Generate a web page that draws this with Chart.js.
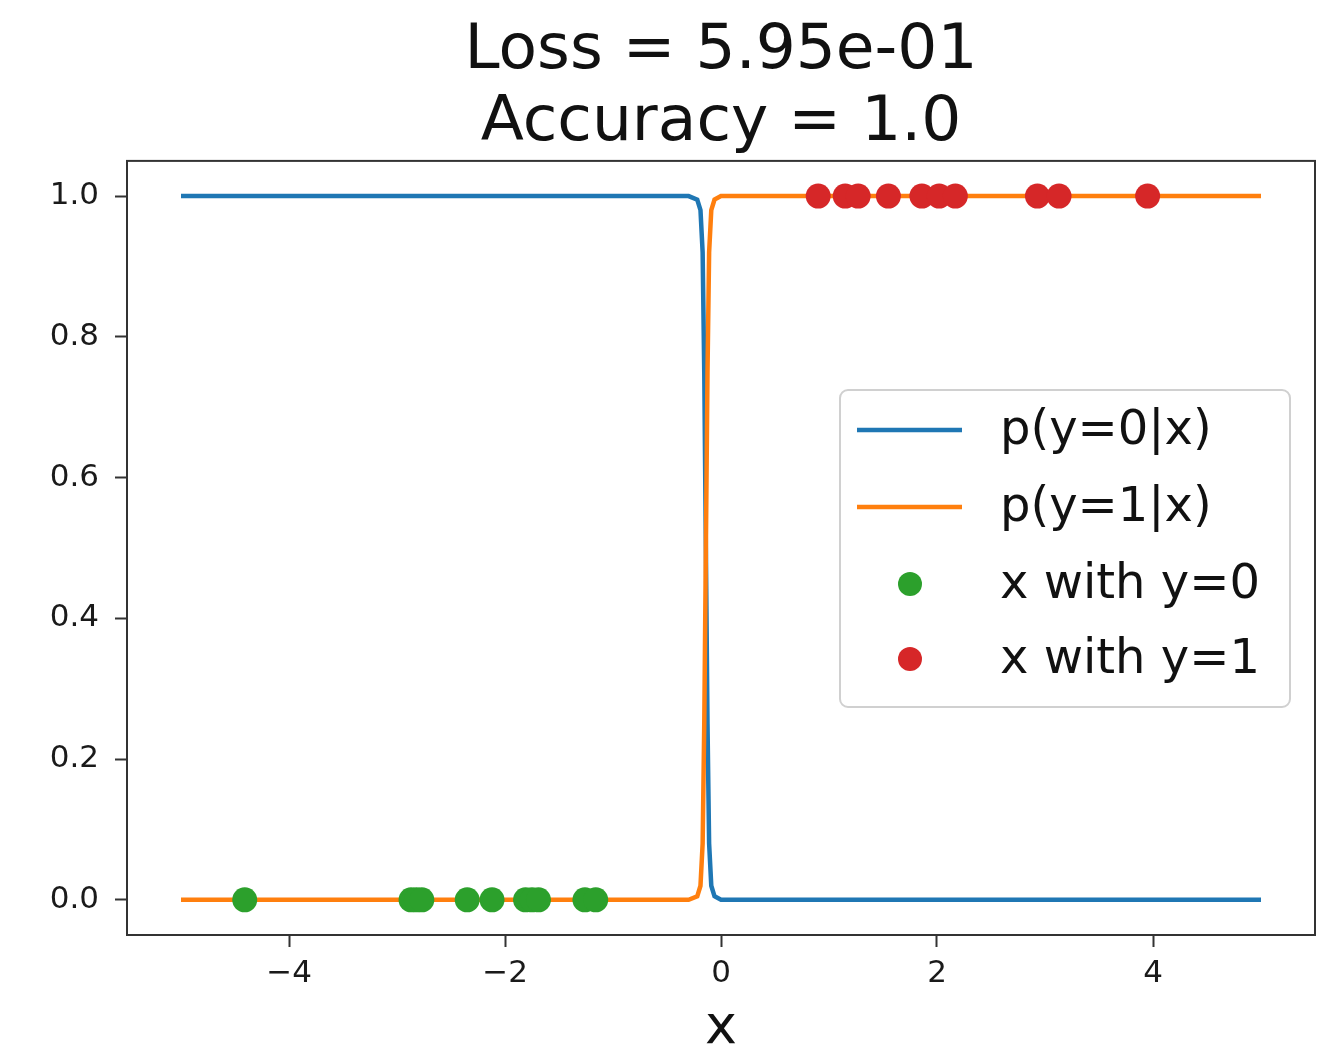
<!DOCTYPE html>
<html>
<head>
<meta charset="utf-8">
<script src="https://cdn.jsdelivr.net/npm/chart.js@4.4.0/dist/chart.umd.min.js"></script>
<style>
  html, body { margin: 0; padding: 0; background: #fff; }
  #wrap { width: 1321px; height: 1056px; }
</style>
</head>
<body>
<div id="wrap"><canvas id="chart" width="1321" height="1056"></canvas></div>
<script>
// values
const titleLines = ['Loss = 5.95e-01', 'Accuracy = 1.0'];
const curveX = [-5, -0.3, -0.22, -0.19, -0.17, -0.155, -0.14, -0.125, -0.11, -0.09, -0.06, 0, 5];
const pY0 = [1, 1, 0.995, 0.98, 0.92, 0.75, 0.5, 0.25, 0.08, 0.02, 0.005, 0, 0];
const pY1 = [0, 0, 0.005, 0.02, 0.08, 0.25, 0.5, 0.75, 0.92, 0.98, 0.995, 1, 1];
const xClass0 = [-4.41, -2.87, -2.82, -2.77, -2.35, -2.12, -1.81, -1.75, -1.69, -1.26, -1.16];
const xClass1 = [0.90, 1.15, 1.27, 1.55, 1.86, 2.02, 2.17, 2.93, 3.13, 3.95];
const xTicks = [-4, -2, 0, 2, 4];
const yTicks = [0, 0.2, 0.4, 0.6, 0.8, 1.0];
const seriesLabels = ['p(y=0|x)', 'p(y=1|x)', 'x with y=0', 'x with y=1'];

const FONT = 'DejaVu Sans';

// axes frame like matplotlib spines
const framePlugin = {
  id: 'frame',
  afterDraw(chart) {
    const { ctx, chartArea: a } = chart;
    ctx.save();
    ctx.strokeStyle = '#333';
    ctx.lineWidth = 2;
    ctx.strokeRect(a.left, a.top, a.right - a.left, a.bottom - a.top);
    ctx.restore();
  }
};

// legend box inside the plot, right side
const legendPlugin = {
  id: 'innerLegend',
  afterDraw(chart) {
    const { ctx } = chart;
    const ds = chart.data.datasets;
    const box = { x: 840, y: 390, w: 450, h: 317 };
    ctx.save();
    ctx.fillStyle = 'rgba(255,255,255,0.8)';
    ctx.strokeStyle = '#d0d0d0';
    ctx.lineWidth = 2;
    ctx.beginPath();
    ctx.roundRect(box.x, box.y, box.w, box.h, 8);
    ctx.fill();
    ctx.stroke();

    ctx.font = '48px "' + FONT + '"';
    ctx.textBaseline = 'middle';
    const rows = [430, 507, 584, 659];
    ds.forEach((d, i) => {
      const y = rows[i];
      if (d.showLine) {
        ctx.strokeStyle = d.borderColor;
        ctx.lineWidth = 4.5;
        ctx.beginPath();
        ctx.moveTo(857, y);
        ctx.lineTo(962, y);
        ctx.stroke();
      } else {
        ctx.fillStyle = d.backgroundColor;
        ctx.beginPath();
        ctx.arc(910, y, 12, 0, Math.PI * 2);
        ctx.fill();
      }
      ctx.fillStyle = '#111';
      ctx.fillText(d.label, 1000, y + 2);
    });
    ctx.restore();
  }
};

const toXY = (xs, ys) => xs.map((x, i) => ({ x: x, y: ys[i] }));

new Chart(document.getElementById('chart'), {
  type: 'scatter',
  data: {
    datasets: [
      {
        label: seriesLabels[0],
        data: toXY(curveX, pY0),
        showLine: true,
        borderColor: '#1f77b4',
        borderWidth: 4.5,
        pointRadius: 0,
        order: 4
      },
      {
        label: seriesLabels[1],
        data: toXY(curveX, pY1),
        showLine: true,
        borderColor: '#ff7f0e',
        borderWidth: 4.5,
        pointRadius: 0,
        order: 3
      },
      {
        label: seriesLabels[2],
        data: xClass0.map(x => ({ x: x, y: 0 })),
        backgroundColor: '#2ca02c',
        borderWidth: 0,
        pointRadius: 12.5,
        order: 2
      },
      {
        label: seriesLabels[3],
        data: xClass1.map(x => ({ x: x, y: 1 })),
        backgroundColor: '#d62728',
        borderWidth: 0,
        pointRadius: 12.5,
        order: 1
      }
    ]
  },
  options: {
    responsive: false,
    animation: false,
    layout: { autoPadding: false, padding: { top: 0, right: 6, bottom: 0, left: 0 } },
    plugins: {
      legend: { display: false },
      tooltip: { enabled: false },
      title: {
        display: true,
        fullSize: false,
        text: titleLines,
        color: '#111',
        font: { family: FONT, size: 63, weight: 'normal', lineHeight: 1.15 },
        padding: { top: 15, bottom: 1 }
      }
    },
    scales: {
      x: {
        type: 'linear',
        min: -5.5,
        max: 5.5,
        afterBuildTicks: s => { s.ticks = xTicks.map(v => ({ value: v })); },
        afterFit: s => { s.height = 121; s.paddingLeft = 0; s.paddingRight = 0; },
        border: { display: false },
        grid: { drawOnChartArea: false, tickLength: 12, tickWidth: 2, tickColor: '#333' },
        ticks: {
          color: '#1a1a1a',
          padding: 8,
          maxRotation: 0,
          font: { family: FONT, size: 31 },
          callback: v => String(v).replace('-', '\u2212')
        },
        title: {
          display: true,
          text: 'x',
          color: '#111',
          font: { family: FONT, size: 54, lineHeight: 1 },
          padding: 0
        }
      },
      y: {
        type: 'linear',
        min: -0.05,
        max: 1.05,
        afterBuildTicks: s => { s.ticks = yTicks.map(v => ({ value: v })); },
        afterFit: s => { s.width = 127; s.paddingTop = 0; s.paddingBottom = 0; },
        border: { display: false },
        grid: { drawOnChartArea: false, tickLength: 12, tickWidth: 2, tickColor: '#333' },
        ticks: {
          color: '#1a1a1a',
          padding: 16,
          font: { family: FONT, size: 31 },
          callback: v => v.toFixed(1)
        }
      }
    }
  },
  plugins: [framePlugin, legendPlugin]
});
</script>
</body>
</html>
